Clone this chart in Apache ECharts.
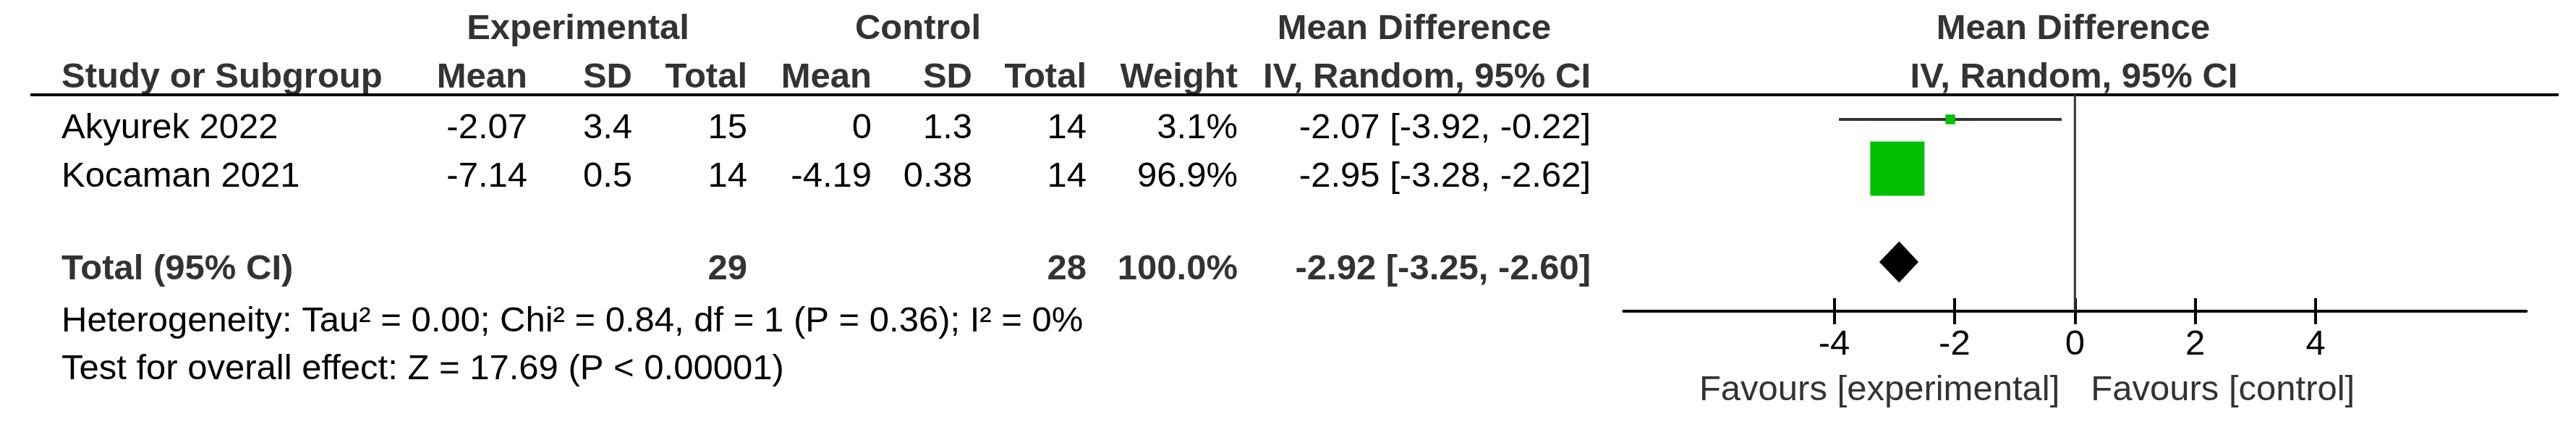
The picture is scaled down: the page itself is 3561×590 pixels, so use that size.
<!DOCTYPE html>
<html>
<head>
<meta charset="utf-8">
<script src="https://cdn.jsdelivr.net/npm/echarts@6/dist/echarts.min.js"></script>
<style>
  html, body { margin: 0; padding: 0; background: #fff; }
  #chart { width: 3561px; height: 590px; }
</style>
</head>
<body>
<div id="chart"></div>
<script>
// study rows
var studies = ["Akyurek 2022", "Kocaman 2021"];
var expMean = [-2.07, -7.14];
var expSD = [3.4, 0.5];
var expTotal = [15, 14];
var ctrlMean = [0, -4.19];
var ctrlSD = [1.3, 0.38];
var ctrlTotal = [14, 14];
var weights = [3.1, 96.9];
var meanDiff = [-2.07, -2.95];
var ciLow = [-3.92, -3.28];
var ciHigh = [-0.22, -2.62];

// pooled result
var totalExp = 29;
var totalCtrl = 28;
var totalWeight = 100.0;
var totalMD = -2.92;
var totalLow = -3.25;
var totalHigh = -2.60;

var heterogeneity = "Heterogeneity: Tau\u00b2 = 0.00; Chi\u00b2 = 0.84, df = 1 (P = 0.36); I\u00b2 = 0%";
var overallEffect = "Test for overall effect: Z = 17.69 (P < 0.00001)";

var tickValues = [-4, -2, 0, 2, 4];
var favoursLeft = "Favours [experimental]";
var favoursRight = "Favours [control]";

// layout
var FONT = "'Liberation Sans', Arial, sans-serif";
var FS = 49;
var CAP = 17.5; // half cap height, baseline -> middle
var col = { name: 85, expMean: 729, expSD: 874, expN: 1033, ctrlMean: 1205, ctrlSD: 1344, ctrlN: 1502, weight: 1711, ci: 2199 };
var rowBase = [195, 262];
var totalBase = 390;

function fmt2(v) { return v.toFixed(2); }
function ciText(m, lo, hi) { return fmt2(m) + " [" + fmt2(lo) + ", " + fmt2(hi) + "]"; }

// text placed by its baseline
function txt(x, base, s, opts) {
  opts = opts || {};
  return {
    type: "text", x: x, y: base - CAP, silent: true,
    style: {
      text: s, fontFamily: FONT, fontSize: FS, lineHeight: FS,
      fontWeight: opts.bold ? "bold" : "normal",
      fill: opts.color || "#000",
      align: opts.align || "left", verticalAlign: "middle"
    }
  };
}

var graphics = [];
// headers
graphics.push(txt(799, 58, "Experimental", { bold: true, align: "center", color: "#333" }));
graphics.push(txt(1269, 58, "Control", { bold: true, align: "center", color: "#333" }));
graphics.push(txt(1955, 58, "Mean Difference", { bold: true, align: "center", color: "#333" }));
graphics.push(txt(2866, 58, "Mean Difference", { bold: true, align: "center", color: "#333" }));
graphics.push(txt(col.name, 125, "Study or Subgroup", { bold: true, color: "#333" }));
[["expMean", "Mean"], ["expSD", "SD"], ["expN", "Total"], ["ctrlMean", "Mean"], ["ctrlSD", "SD"],
 ["ctrlN", "Total"], ["weight", "Weight"], ["ci", "IV, Random, 95% CI"]].forEach(function (h) {
  graphics.push(txt(col[h[0]], 125, h[1], { bold: true, align: "right", color: "#333" }));
});
graphics.push(txt(2867, 125, "IV, Random, 95% CI", { bold: true, align: "center", color: "#333" }));
graphics.push({
  type: "line", silent: true,
  shape: { x1: 42, y1: 131, x2: 3537, y2: 131 },
  style: { stroke: "#000", lineWidth: 4 }
});

// study rows
studies.forEach(function (s, i) {
  var y = rowBase[i];
  graphics.push(txt(col.name, y, s));
  graphics.push(txt(col.expMean, y, String(expMean[i]), { align: "right" }));
  graphics.push(txt(col.expSD, y, String(expSD[i]), { align: "right" }));
  graphics.push(txt(col.expN, y, String(expTotal[i]), { align: "right" }));
  graphics.push(txt(col.ctrlMean, y, String(ctrlMean[i]), { align: "right" }));
  graphics.push(txt(col.ctrlSD, y, String(ctrlSD[i]), { align: "right" }));
  graphics.push(txt(col.ctrlN, y, String(ctrlTotal[i]), { align: "right" }));
  graphics.push(txt(col.weight, y, weights[i].toFixed(1) + "%", { align: "right" }));
  graphics.push(txt(col.ci, y, ciText(meanDiff[i], ciLow[i], ciHigh[i]), { align: "right" }));
});

// total row
graphics.push(txt(col.name, totalBase, "Total (95% CI)", { bold: true, color: "#333" }));
graphics.push(txt(col.expN, totalBase, String(totalExp), { bold: true, align: "right", color: "#333" }));
graphics.push(txt(col.ctrlN, totalBase, String(totalCtrl), { bold: true, align: "right", color: "#333" }));
graphics.push(txt(col.weight, totalBase, totalWeight.toFixed(1) + "%", { bold: true, align: "right", color: "#333" }));
graphics.push(txt(col.ci, totalBase, ciText(totalMD, totalLow, totalHigh), { bold: true, align: "right", color: "#333" }));
graphics.push(txt(col.name, 462, heterogeneity));
graphics.push(txt(col.name, 528, overallEffect));

// forest data: [md, row, lo, hi, weight]
var studyData = studies.map(function (s, i) {
  return [meanDiff[i], i + 1, ciLow[i], ciHigh[i], weights[i]];
});
var maxW = Math.max.apply(null, weights);

var chart = echarts.init(document.getElementById("chart"), null, { renderer: "canvas" });

chart.setOption({
  backgroundColor: "#fff",
  animation: false,
  grid: { left: 2244.3, width: 1248, top: 131, bottom: 160 },
  xAxis: [{
    type: "value", min: -7.5, max: 7.5, position: "bottom",
    axisLine: { lineStyle: { color: "#000", width: 4 } },
    axisTick: { customValues: tickValues, length: 18, lineStyle: { color: "#000", width: 4 } },
    axisLabel: {
      customValues: tickValues, margin: 22, color: "#000",
      fontFamily: FONT, fontSize: FS, lineHeight: FS,
      formatter: function (v) { return String(v); }
    },
    splitLine: { show: false }
  }, {
    type: "value", min: -7.5, max: 7.5, position: "bottom", gridIndex: 0,
    axisLine: { show: false },
    axisTick: { inside: true, customValues: tickValues, length: 18, lineStyle: { color: "#000", width: 4 } },
    axisLabel: { show: false },
    splitLine: { show: false }
  }],
  yAxis: { type: "value", min: 0.5, max: 4.9, inverse: true, show: false },
  series: [{
    // line of no effect
    type: "line", xAxisIndex: 0, data: [[0, 0.5], [0, 4.9]],
    symbol: "none", lineStyle: { color: "#333", width: 3 }, silent: true
  }, {
    type: "custom", xAxisIndex: 0, data: studyData,
    renderItem: function (params, api) {
      var c = api.coord([api.value(0), api.value(1)]);
      var lo = api.coord([api.value(2), api.value(1)]);
      var hi = api.coord([api.value(3), api.value(1)]);
      var size = 75 * Math.sqrt(api.value(4) / maxW);
      return {
        type: "group",
        children: [{
          type: "line",
          shape: { x1: lo[0], y1: lo[1], x2: hi[0], y2: hi[1] },
          style: { stroke: "#333", lineWidth: 4 }
        }, {
          type: "rect",
          shape: { x: c[0] - size / 2, y: c[1] - size / 2, width: size, height: size },
          style: { fill: "#00c000" }
        }]
      };
    }
  }, {
    type: "custom", xAxisIndex: 0, data: [[totalMD, 3.9, totalLow, totalHigh]],
    renderItem: function (params, api) {
      var c = api.coord([api.value(0), api.value(1)]);
      var lo = api.coord([api.value(2), api.value(1)]);
      var hi = api.coord([api.value(3), api.value(1)]);
      var h = 57;
      return {
        type: "polygon",
        shape: { points: [[lo[0], c[1]], [c[0], c[1] - h / 2], [hi[0], c[1]], [c[0], c[1] + h / 2]] },
        style: { fill: "#000" }
      };
    }
  }],
  graphic: graphics
});

// favours labels around the line of no effect
var zeroX = chart.convertToPixel({ xAxisIndex: 0 }, 0);
var favL = txt(zeroX - 21, 557, favoursLeft, { color: "#333", align: "right" });
var favR = txt(zeroX + 22, 557, favoursRight, { color: "#333" });
chart.setOption({ graphic: graphics.concat([favL, favR]) });
</script>
</body>
</html>
